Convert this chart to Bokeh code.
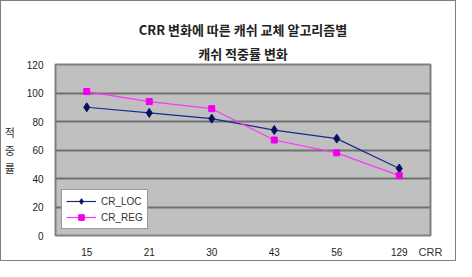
from bokeh.plotting import figure
from bokeh.layouts import column
from bokeh.models import Title, Range1d, FactorRange, Legend, LegendItem, FixedTicker
from bokeh.embed import file_html
from bokeh.resources import INLINE

categories = ["15", "21", "30", "43", "56", "129"]
cr_loc = [90, 86, 82, 74, 68, 47]
cr_reg = [101, 94, 89, 67, 58, 42]
y_ticks = [0, 20, 40, 60, 80, 100, 120]
title_lines = ["CRR 변화에 따른 캐쉬 교체 알고리즘별", "캐쉬 적중률 변화"]
y_label_chars = ["적", "중", "률"]
x_label = "CRR"

W, H = 454, 259
p = figure(width=W, height=H, x_range=FactorRange(factors=categories),
           y_range=Range1d(0, 120), output_backend="svg", toolbar_location=None,
           min_border_left=49, min_border_right=25, min_border_top=63, min_border_bottom=24)
p.border_fill_color = "white"
p.background_fill_color = "#c0c0c0"
p.outline_line_color = "#808080"
p.outline_line_width = 2

p.xgrid.grid_line_color = None
p.ygrid.grid_line_color = "#707070"
p.ygrid.grid_line_width = 2
p.yaxis.ticker = FixedTicker(ticks=y_ticks)

for ax in (p.xaxis, p.yaxis):
    ax.axis_line_color = None
    ax.major_tick_line_color = None
    ax.minor_tick_line_color = None
    ax.major_label_text_font = "Liberation Sans"
    ax.major_label_text_font_size = "10px"
    ax.major_label_text_color = "#222222"
p.yaxis.major_label_standoff = 6
p.xaxis.major_label_standoff = 6

p.yaxis.axis_label = "\n".join(y_label_chars)
p.yaxis.axis_label_orientation = "horizontal"
p.yaxis.axis_label_text_font = "Noto Sans CJK KR"
p.yaxis.axis_label_text_font_size = "11px"
p.yaxis.axis_label_text_font_style = "normal"
p.yaxis.axis_label_text_color = "#333333"
p.yaxis.axis_label_text_line_height = 1.1
p.yaxis.axis_label_standoff = 9

p.xaxis.axis_label = x_label
p.xaxis.axis_label_align = "end"
p.xaxis.axis_label_text_align = "left"
p.xaxis.axis_label_standoff = -13
p.xaxis.axis_label_text_font = "Liberation Sans"
p.xaxis.axis_label_text_font_size = "11px"
p.xaxis.axis_label_text_font_style = "normal"
p.xaxis.axis_label_text_color = "#333333"

l1 = p.line(categories, cr_loc, line_color="#1a2a8a", line_width=1.2)
m1 = p.scatter(categories, cr_loc, marker="diamond", size=9, color="#0a1060")
l2 = p.line(categories, cr_reg, line_color="#ff33ff", line_width=1.2)
m2 = p.scatter(categories, cr_reg, marker="square", size=6, color="#ee00ee")

legend = Legend(items=[LegendItem(label="CR_LOC", renderers=[l1, m1]),
                       LegendItem(label="CR_REG", renderers=[l2, m2])],
                location="bottom_left")
legend.background_fill_color = "white"
legend.background_fill_alpha = 1
legend.border_line_color = "#333333"
legend.label_text_font = "Liberation Sans"
legend.label_text_font_size = "10px"
legend.label_text_color = "#333333"
legend.glyph_width = 30
legend.glyph_height = 14
legend.label_height = 14
legend.spacing = 2
legend.padding = 4
legend.margin = 6
p.add_layout(legend, "center")

for t, so in zip(reversed(title_lines), [4, 2]):
    p.add_layout(Title(text=t, align="center", text_font="Noto Sans CJK KR",
                       text_font_style="bold", text_font_size="13px",
                       text_color="#222222", standoff=so), "above")

layout = column(p, styles={"border": "1px solid #808080"})
open("out.html", "w").write(file_html(layout, INLINE))
